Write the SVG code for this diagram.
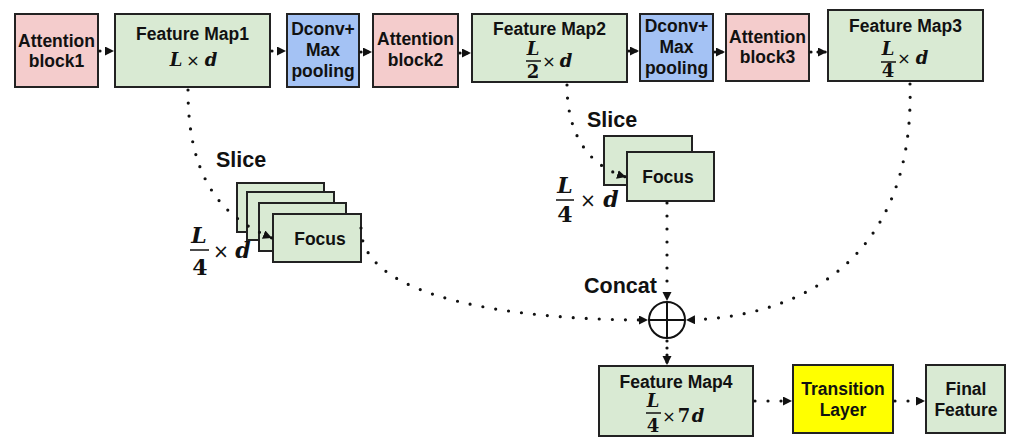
<svg xmlns="http://www.w3.org/2000/svg" width="1009" height="439" viewBox="0 0 1009 439">
<defs>
<marker id="ah" markerUnits="userSpaceOnUse" markerWidth="11" markerHeight="11" refX="9" refY="4.5" orient="auto">
<path d="M0,0 L9,4.5 L0,9 z" fill="#111"/>
</marker>
<style>
.pink{fill:#f4cccc;stroke:#222;stroke-width:2}
.green{fill:#d9ead3;stroke:#222;stroke-width:2}
.blue{fill:#a4c2f4;stroke:#222;stroke-width:2}
.yellow{fill:#ffff00;stroke:#222;stroke-width:2}
.t{font-family:"Liberation Sans",Arial,sans-serif;font-weight:bold;font-size:17.5px;fill:#111;text-anchor:middle}
.big{font-family:"Liberation Sans",Arial,sans-serif;font-weight:bold;font-size:21.5px;fill:#111}
.m{font-family:"DejaVu Serif","Liberation Serif",serif;font-weight:bold;font-style:italic;font-size:18px;fill:#111;text-anchor:middle}
.mu{font-family:"DejaVu Serif","Liberation Serif",serif;font-weight:bold;font-size:18px;fill:#111;text-anchor:middle}
.x{font-family:"DejaVu Sans",sans-serif;font-size:16px;fill:#111;text-anchor:middle}
.lg{font-size:22px}
.lx{font-size:19px}
.fl{stroke:#111;stroke-width:1.5}
.c{fill:none;stroke:#111;stroke-width:3.2;stroke-linecap:round;stroke-dasharray:0 13;marker-end:url(#ah)}
.s{fill:none;stroke:#111;stroke-width:3.2;stroke-linecap:round;stroke-dasharray:0 7;marker-end:url(#ah)}
</style>
</defs>

<g id="att1"><rect class="pink" x="15" y="14" width="83" height="73"/>
<text class="t" x="56.5" y="47">Attention</text><text class="t" x="56.5" y="67">block1</text></g>

<g id="fm1"><rect class="green" x="115" y="14" width="155" height="73"/>
<text class="t" x="192.5" y="40">Feature Map1</text>
<text class="m" x="176" y="66">L</text><text class="x" x="193" y="66">×</text><text class="m" x="211" y="66">d</text></g>

<g id="dconv1"><rect class="blue" x="287" y="14" width="72" height="73"/>
<text class="t" x="323" y="35">Dconv+</text><text class="t" x="323" y="56">Max</text><text class="t" x="323" y="77">pooling</text></g>

<g id="att2"><rect class="pink" x="373" y="14" width="85" height="73"/>
<text class="t" x="415.5" y="45">Attention</text><text class="t" x="415.5" y="66">block2</text></g>

<g id="fm2"><rect class="green" x="472" y="14" width="155" height="68"/>
<text class="t" x="549.5" y="35">Feature Map2</text>
<text class="m" x="533" y="55">L</text><line class="fl" x1="526" y1="61" x2="541" y2="61"/><text class="mu" x="533" y="78">2</text>
<text class="x" x="549" y="67">×</text><text class="m" x="566" y="67">d</text></g>

<g id="dconv2"><rect class="blue" x="640" y="14" width="73" height="67"/>
<text class="t" x="676.5" y="32">Dconv+</text><text class="t" x="676.5" y="53">Max</text><text class="t" x="676.5" y="74">pooling</text></g>

<g id="att3"><rect class="pink" x="726" y="14" width="83" height="67"/>
<text class="t" x="767.5" y="43">Attention</text><text class="t" x="767.5" y="63">block3</text></g>

<g id="fm3"><rect class="green" x="828" y="10" width="155" height="71"/>
<text class="t" x="905.5" y="32">Feature Map3</text>
<text class="m" x="888" y="55">L</text><line class="fl" x1="881" y1="62" x2="896" y2="62"/><text class="mu" x="888" y="77">4</text>
<text class="x" x="904" y="64">×</text><text class="m" x="922" y="64">d</text></g>

<g id="stack1">
<rect class="green" x="237" y="183" width="87" height="49"/>
<rect class="green" x="247" y="192" width="87" height="48"/>
<rect class="green" x="259" y="203" width="87" height="48"/>
<rect class="green" x="273" y="214" width="88" height="48"/>
<text class="t" x="320" y="245">Focus</text>
<text class="big" x="216" y="167">Slice</text>
<text class="m lg" x="199" y="243">L</text><line class="fl" x1="190" y1="250" x2="209" y2="250"/><text class="mu lg" x="200" y="275">4</text>
<text class="x lx" x="221" y="258">×</text><text class="m lg" x="243" y="258">d</text>
</g>

<g id="stack2">
<rect class="green" x="604" y="136" width="88" height="49"/>
<rect class="green" x="627" y="152" width="87" height="49"/>
<text class="t" x="668" y="183">Focus</text>
<text class="big" x="587" y="127">Slice</text>
<text class="m lg" x="565" y="193">L</text><line class="fl" x1="556" y1="200" x2="574" y2="200"/><text class="mu lg" x="565" y="222">4</text>
<text class="x lx" x="588" y="207">×</text><text class="m lg" x="611" y="207">d</text>
</g>

<g id="concat">
<circle cx="667" cy="320" r="18" fill="#fff" stroke="#111" stroke-width="2"/>
<line x1="649" y1="320" x2="685" y2="320" stroke="#111" stroke-width="2"/>
<line x1="667" y1="302" x2="667" y2="338" stroke="#111" stroke-width="2"/>
<text class="big" x="584" y="293">Concat</text>
</g>

<g id="fm4"><rect class="green" x="599" y="366" width="154" height="70"/>
<text class="t" x="676" y="388">Feature Map4</text>
<text class="m" x="653" y="407">L</text><line class="fl" x1="646" y1="413" x2="661" y2="413"/><text class="mu" x="653" y="432">4</text>
<text class="x" x="669" y="422">×</text><text class="mu" x="684" y="422">7</text><text class="m" x="698" y="422">d</text></g>

<g id="transition"><rect class="yellow" x="793" y="365" width="100" height="68"/>
<text class="t" x="843" y="395">Transition</text><text class="t" x="843" y="416">Layer</text></g>

<g id="final"><rect class="green" x="926" y="365" width="79" height="68"/>
<text class="t" x="966" y="395">Final</text><text class="t" x="966" y="416">Feature</text></g>

<g id="connectors">
<path class="s" d="M100,51 L114,51"/>
<path class="s" d="M272,51 L286,51"/>
<path class="s" d="M361,52 L372,52"/>
<path class="s" d="M460,53 L471,53"/>
<path class="s" d="M629,51 L639,51"/>
<path class="s" d="M715,52 L725,52"/>
<path class="s" d="M811,52 L827,52"/>
<path class="c" d="M188,90 C188,170 215,215 272,238"/>
<path class="c" d="M567,85 C567,130 585,165 626,177"/>
<path class="c" d="M361,228 C361,300 520,320 648,320"/>
<path class="c" d="M910,84 C915,260 800,318 686,320"/>
<path class="c" d="M667,203 L667,301"/>
<path class="s" d="M667,341 L667,365"/>
<path class="c" d="M755,401 L792,401"/>
<path class="c" d="M895,401 L925,401"/>
</g>
</svg>
